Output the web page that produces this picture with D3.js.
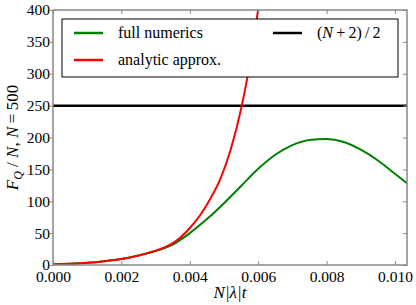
<!DOCTYPE html>
<html>
<head>
<meta charset="utf-8">
<script src="https://cdn.jsdelivr.net/npm/d3@7"></script>
<style>
	body { margin: 0; background: #fff; }
	svg text { font-family: "Liberation Serif", "Times New Roman", Tinos, "DejaVu Serif", serif !important; }
</style>
</head>
<body>
<svg id="chart"></svg>
<script>
// data
let tFull = [0, 0.0005, 0.001, 0.0015, 0.002, 0.0025, 0.003, 0.0035, 0.004, 0.0045, 0.005, 0.0055, 0.006, 0.0065, 0.007, 0.0075, 0.008, 0.0085, 0.009, 0.0095, 0.010, 0.01035];
let fFull = [1, 2, 3.5, 6, 9.5, 15, 22, 32, 50, 72, 97, 124, 151, 173, 188, 196, 197.5, 193, 181, 164, 143, 128];

let tApprox = [0, 0.0005, 0.001, 0.0015, 0.002, 0.0025, 0.003, 0.0034, 0.0037, 0.004, 0.0043, 0.0046, 0.0049, 0.0052, 0.0055, 0.0058, 0.0061];
let fApprox = [1, 2, 3.5, 6, 9.5, 15, 22.5, 31, 42, 58, 78, 104, 136, 182, 245, 330, 440];

let limitValue = 250; // (N+2)/2 with N = 500

let xTicks = [0, 0.002, 0.004, 0.006, 0.008, 0.010];
let yTicks = [0, 50, 100, 150, 200, 250, 300, 350, 400];

let canvas = {"width": 416, "height": 305,
	"marginLeft": 53, "marginTop": 10, "marginRight": 9, "marginBottom": 40};

const svg = d3.select("#chart")
	.attr("width", canvas.width)
	.attr("height", canvas.height);

const xScale = d3.scaleLinear()
	.domain([0, 0.01035])
	.range([canvas.marginLeft, canvas.width - canvas.marginRight]);

const yScale = d3.scaleLinear()
	.domain([0, 400])
	.range([canvas.height - canvas.marginBottom, canvas.marginTop]);

const x0 = xScale.range()[0], x1 = xScale.range()[1];
const y0 = yScale.range()[0], y1 = yScale.range()[1];

svg.append("clipPath").attr("id", "plotclip")
	.append("rect")
	.attr("x", x0).attr("y", y1)
	.attr("width", x1 - x0).attr("height", y0 - y1);

const plot = svg.append("g").attr("clip-path", "url(#plotclip)");

const line = d3.line()
	.x(d => xScale(d[0]))
	.y(d => yScale(d[1]))
	.curve(d3.curveMonotoneX);

// (N+2)/2 line
plot.append("line")
	.attr("x1", x0).attr("x2", x1)
	.attr("y1", yScale(limitValue)).attr("y2", yScale(limitValue))
	.attr("stroke", "#000").attr("stroke-width", 2.5);

plot.append("path")
	.datum(d3.zip(tFull, fFull))
	.attr("d", line)
	.attr("fill", "none")
	.attr("stroke", "#008000")
	.attr("stroke-width", 2);

plot.append("path")
	.datum(d3.zip(tApprox, fApprox))
	.attr("d", line)
	.attr("fill", "none")
	.attr("stroke", "#ff0000")
	.attr("stroke-width", 2);

// axes: x/right ticks point inward, left ticks outward
const tickLen = 4;
const axisColor = "#888";

svg.append("g")
	.attr("transform", `translate(0,${y0})`)
	.call(d3.axisBottom(xScale).tickValues(xTicks).tickSizeInner(-tickLen).tickSizeOuter(0).tickPadding(6).tickFormat(d3.format(".3f")))
	.call(g => g.select(".domain").remove())
	.call(g => g.selectAll("line").attr("stroke", axisColor))
	.call(g => g.selectAll("text").attr("font-size", 15.5).attr("fill", "#000"));

svg.append("g")
	.attr("transform", `translate(0,${y1})`)
	.call(d3.axisTop(xScale).tickValues(xTicks).tickSizeInner(-tickLen).tickSizeOuter(0).tickFormat(""))
	.call(g => g.select(".domain").remove())
	.call(g => g.selectAll("line").attr("stroke", axisColor));

svg.append("g")
	.attr("transform", `translate(${x0},0)`)
	.call(d3.axisLeft(yScale).tickValues(yTicks).tickSizeInner(3).tickSizeOuter(0).tickPadding(0))
	.call(g => g.select(".domain").remove())
	.call(g => g.selectAll("line").attr("stroke", axisColor))
	.call(g => g.selectAll("text").attr("font-size", 15.5).attr("fill", "#000"));

svg.append("g")
	.attr("transform", `translate(${x1},0)`)
	.call(d3.axisRight(yScale).tickValues(yTicks).tickSizeInner(-tickLen).tickSizeOuter(0).tickFormat(""))
	.call(g => g.select(".domain").remove())
	.call(g => g.selectAll("line").attr("stroke", axisColor));

svg.append("rect")
	.attr("x", x0).attr("y", y1)
	.attr("width", x1 - x0).attr("height", y0 - y1)
	.attr("fill", "none")
	.attr("stroke", axisColor)
	.attr("stroke-width", 1.5);

// legend
const legend = svg.append("g");
legend.append("rect")
	.attr("x", 62).attr("y", 19)
	.attr("width", 336).attr("height", 58)
	.attr("fill", "#fff")
	.attr("stroke", "#000")
	.attr("stroke-width", 1);

let legendItems = [
	{label: "full numerics", color: "#008000", x: 74, y: 33},
	{label: "analytic approx.", color: "#ff0000", x: 74, y: 60},
	{label: "(N+2) / 2", color: "#000", x: 273, y: 33}
];

legendItems.forEach(d => {
	legend.append("line")
		.attr("x1", d.x).attr("x2", d.x + 29)
		.attr("y1", d.y).attr("y2", d.y)
		.attr("stroke", d.color).attr("stroke-width", 2.5);
});

legend.append("text").attr("x", 118).attr("y", 38).attr("font-size", 16).text("full numerics");
legend.append("text").attr("x", 118).attr("y", 65).attr("font-size", 16).text("analytic approx.");

const nplus = legend.append("text").attr("x", 317).attr("y", 38).attr("font-size", 16);
nplus.append("tspan").text("(");
nplus.append("tspan").attr("font-style", "italic").text("N");
nplus.append("tspan").text("\u2009+\u20092)\u2009/\u20092");

// axis labels
const xl = svg.append("text")
	.attr("x", (x0 + x1) / 2).attr("y", 298)
	.attr("text-anchor", "middle")
	.attr("font-size", 17)
	.attr("font-style", "italic");
xl.append("tspan").text("N|λ|t");

const yl = svg.append("text")
	.attr("transform", `translate(18,${(y0 + y1) / 2}) rotate(-90)`)
	.attr("text-anchor", "middle")
	.attr("font-size", 17);
yl.append("tspan").attr("font-style", "italic").text("F");
yl.append("tspan").attr("font-style", "italic").attr("font-size", 12).attr("dy", 4).text("Q");
yl.append("tspan").attr("dy", -4).text(" / ");
yl.append("tspan").attr("font-style", "italic").text("N");
yl.append("tspan").text(", ");
yl.append("tspan").attr("font-style", "italic").text("N");
yl.append("tspan").text("\u2009=\u2009500");
</script>
</body>
</html>
